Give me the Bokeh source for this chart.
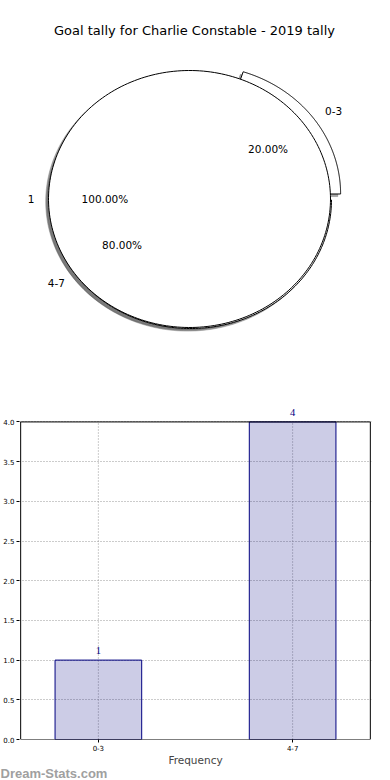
import numpy as np
from bokeh.plotting import figure
from bokeh.models import (Range1d, Label, LabelSet, ColumnDataSource, FixedTicker,
                          PrintfTickFormatter, Title)
from bokeh.core.properties import value
from bokeh.embed import file_html
from bokeh.resources import INLINE

# ---------------- data ----------------
title_text = "Goal tally for Charlie Constable - 2019 tally"
categories = ["0-3", "4-7"]
counts = [1, 4]
explode = [0.08, 0.0]
total_labels = ["1"]
total_values = [1]
y_ticks = [0.0, 0.5, 1.0, 1.5, 2.0, 2.5, 3.0, 3.5, 4.0]
x_label = "Frequency"
watermark = "Dream-Stats.com"

FONT = "DejaVu Sans"

# ---------------- pie panel ----------------
W = 390
H1 = 360
H2 = 420
PX, PY = 141.0, 128.5           # pixels per unit radius
CX, CY = 189.0, 198.5           # pie centre in figure pixels
p1 = figure(width=W, height=H1, output_backend="svg", toolbar_location=None,
            x_range=Range1d(-CX / PX, (W - CX) / PX),
            y_range=Range1d(-(H1 - CY) / PY, CY / PY),
            x_axis_location=None, y_axis_location=None, min_border=0)
p1.grid.visible = False
p1.outline_line_color = None


def wedge(f0, f1, cx, cy, n=240):
    t = np.linspace(2 * np.pi * f0, 2 * np.pi * f1, n)
    if f1 - f0 >= 0.9999:
        return cx + np.cos(t), cy + np.sin(t)
    xs = np.concatenate([[cx], cx + np.cos(t), [cx]])
    ys = np.concatenate([[cy], cy + np.sin(t), [cy]])
    return xs, ys


def pie_geometry(vals, expl, shift=(0.0, 0.0)):
    vals = np.asarray(vals, dtype=float)
    fr = vals / vals.sum()
    out = []
    start = 0.0
    for f, e in zip(fr, expl):
        mid = 2 * np.pi * (start + f / 2)
        cx = shift[0] + e * np.cos(mid)
        cy = shift[1] + e * np.sin(mid)
        out.append((start, start + f, cx, cy, mid, f))
        start += f
    return out


geo1 = pie_geometry(counts, explode, shift=(0.007, -0.008))
geo2 = pie_geometry(total_values, [0.0] * len(total_values))

# shadows (behind all wedges)
for g in geo1 + geo2:
    xs, ys = wedge(g[0], g[1], g[2] - 0.02, g[3] - 0.02)
    p1.patch(xs, ys, fill_color="#4d4d4d", fill_alpha=0.5, line_color="#4d4d4d", line_alpha=0.3)

# wedges
for g in geo1 + geo2:
    xs, ys = wedge(g[0], g[1], g[2], g[3])
    p1.patch(xs, ys, fill_color="white", line_color="black", line_width=1)


def add_labels(geo, labels):
    for g, lab in zip(geo, labels):
        cx, cy, mid, f = g[2], g[3], g[4], g[5]
        lx = cx + 1.1 * np.cos(mid)
        ly = cy + 1.1 * np.sin(mid)
        p1.text(x=[lx], y=[ly], text=[lab], text_font=value(FONT), text_font_size="10.5px",
                text_align="left" if lx > 0 else "right", text_baseline="middle", text_color="black")
        px = cx + 0.6 * np.cos(mid)
        py = cy + 0.6 * np.sin(mid)
        p1.text(x=[px], y=[py], text=["%.2f%%" % (f * 100)], text_font=value(FONT),
                text_font_size="10.5px", text_align="center", text_baseline="middle", text_color="black")


add_labels(geo1, categories)
add_labels(geo2, total_labels)

p1.add_layout(Label(x=(194 - CX) / PX, y=(CY - 30) / PY, text=title_text,
                    text_font=FONT, text_font_size="13px", text_align="center",
                    text_baseline="middle", text_color="black"))

# ---------------- bar panel ----------------
X_LO, X_HI = -0.4, 1.4
Y_LO, Y_HI = 0.0, 4.0
Y_HEAD = 4.27          # headroom above the axes box for the value labels
EPS = 0.006
idx = list(range(len(categories)))
src = ColumnDataSource(dict(x=idx, top=counts, lab=[str(c) for c in counts]))
p2 = figure(width=W, height=H2, output_backend="svg", toolbar_location=None,
            x_range=Range1d(X_LO - EPS, X_HI + EPS), y_range=Range1d(Y_LO, Y_HEAD),
            min_border_left=19, min_border_right=19, min_border_top=40, min_border_bottom=40)
p2.outline_line_color = None
p2.xgrid.visible = False

# vertical grid lines at the categories (only inside the axes box)
p2.segment(x0=idx, y0=[Y_LO] * len(idx), x1=idx, y1=[Y_HI] * len(idx),
           line_color="#999999", line_dash="1 2", line_width=1, level="underlay")

p2.vbar(x="x", top="top", width=0.446, source=src, fill_color="navy", fill_alpha=0.2,
        line_color="navy", line_width=1)

# axes box
p2.quad(left=[X_LO], right=[X_HI], bottom=[Y_LO], top=[Y_HI], fill_color=None,
        line_color="black", line_width=1)

p2.add_layout(LabelSet(x="x", y="top", text="lab", source=src, text_font=FONT,
                       text_font_size="10.5px", text_color="navy", text_align="center",
                       text_baseline="bottom", y_offset=6))

p2.xaxis.ticker = FixedTicker(ticks=idx)
p2.xaxis.major_label_overrides = {i: c for i, c in zip(idx, categories)}
p2.yaxis.ticker = FixedTicker(ticks=y_ticks)
p2.yaxis.formatter = PrintfTickFormatter(format="%.1f")
p2.yaxis.bounds = (Y_LO, Y_HI)
for ax in (p2.xaxis[0], p2.yaxis[0]):
    ax.major_label_text_font = FONT
    ax.major_label_text_font_size = "7px"
    ax.major_label_text_color = "black"
    ax.major_tick_in = 0
    ax.major_tick_out = 3
    ax.minor_tick_line_color = None
    ax.major_label_standoff = 2
    ax.axis_line_color = None
p2.xaxis.axis_label = x_label
p2.xaxis.axis_label_text_font = FONT
p2.xaxis.axis_label_text_font_size = "10.5px"
p2.xaxis.axis_label_text_font_style = "normal"
p2.xaxis.axis_label_standoff = 0
p2.ygrid[0].grid_line_color = "#999999"
p2.ygrid[0].grid_line_dash = "1 2"
p2.ygrid[0].grid_line_width = 1

p2.add_layout(Title(text=watermark, align="left", offset=-19, standoff=-5, vertical_align="top",
                    text_font="Liberation Sans", text_font_size="13px", text_font_style="bold",
                    text_color="#a0a0a0"), "below")

open("out.html", "w").write(file_html([p1, p2], INLINE))
